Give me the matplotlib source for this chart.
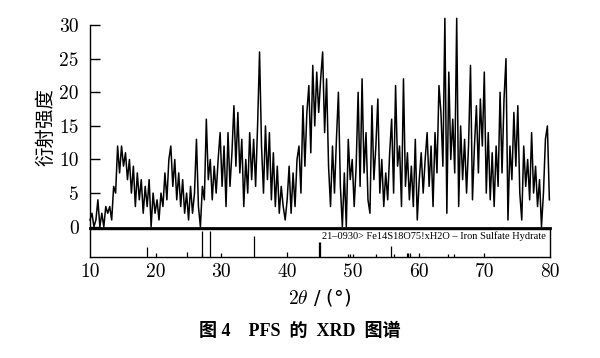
import matplotlib

matplotlib.use("Agg")

import matplotlib.pyplot as plt
import numpy as np

# XRD scan, 2theta from 10.0 to 79.9 in 0.3 deg steps
two_theta_start = 10.0
two_theta_step = 0.3
intensity = [
    # 10.0 - 19.9
    1, 2, 0, 1, 4, 0, 2, 0, 3, 2, 3, 1, 6, 5, 12, 8, 12, 9, 11, 7,
    10, 5, 9, 3, 8, 4, 7, 2, 6, 3, 7, 0, 5, 2,
    # 20.2 - 29.8
    4, 1, 5, 3, 8, 4, 10, 12, 6, 10, 4, 8, 3, 7, 2, 5, 1, 6, 2, 5,
    13, 3, 0, 6, 4, 16, 7, 10, 4, 9, 5, 10, 14,
    # 30.1 - 39.7
    6, 12, 3, 14, 6, 11, 18, 9, 17, 8, 13, 3, 10, 5, 14, 7, 13, 6, 15, 26,
    12, 5, 15, 7, 14, 4, 11, 3, 9, 2, 6, 3, 1,
    # 40.0 - 49.6
    4, 9, 2, 8, 3, 10, 12, 5, 18, 9, 17, 21, 11, 24, 15, 23, 17, 22, 26, 14,
    22, 9, 3, 12, 5, 13, 20, 6, 0, 8, 0, 13, 7,
    # 49.9 - 59.5
    10, 3, 9, 20, 6, 22, 8, 14, 4, 2, 18, 7, 12, 19, 5, 10, 3, 8, 4, 11,
    16, 5, 21, 9, 12, 3, 22, 6, 11, 4, 9, 3, 13,
    # 59.8 - 69.7
    1, 7, 11, 5, 10, 14, 6, 12, 3, 14, 8, 21, 17, 9, 31, 2, 23, 10, 16, 8,
    31, 3, 15, 7, 13, 5, 12, 24, 4, 12, 18, 8, 19, 12,
    # 70.0 - 79.9
    23, 5, 14, 4, 11, 3, 12, 6, 20, 8, 19, 25, 1, 12, 7, 17, 9, 18, 5, 1,
    12, 6, 10, 4, 14, 5, 9, 3, 7, 0, 5, 13, 15, 4,
]

# reference card 21-0930 stick pattern (relative intensity, %)
ref_positions = [18.6, 20.0, 24.7, 27.0, 27.1, 28.2, 30.0, 35.0, 40.0, 44.8, 45.0,
                 49.2, 49.6, 50.0, 53.5, 55.8, 56.2, 58.2, 58.4, 58.7, 60.0,
                 64.5, 65.4, 70.0]
ref_heights = [37, 15, 19, 100, 12, 100, 15, 78, 19, 56, 56,
               10, 10, 10, 12, 40, 12, 15, 15, 15, 16,
               12, 12, 15]
ref_label = "21\u20130930> Fe14S18O75!xH2O \u2013 Iron Sulfate Hydrate"

y_ticks = [0, 5, 10, 15, 20, 25, 30]
x_ticks = [10, 20, 30, 40, 50, 60, 70, 80]

plt.rcParams["mathtext.fontset"] = "cm"
tick_font = {"family": "cmr10", "size": 14}

fig = plt.figure(figsize=(6.0, 3.58), dpi=100)
ax = fig.add_axes([0.15, 0.363, 0.7667, 0.567])
ax_ref = fig.add_axes([0.15, 0.282, 0.7667, 0.077])

two_theta = two_theta_start + two_theta_step * np.arange(len(intensity))
ax.plot(two_theta, intensity, color="black", linewidth=1.1, clip_on=False)
ax.set_xlim(10, 80)
ax.set_ylim(-0.2, 30)
ax.set_yticks(y_ticks)
ax.set_yticklabels([str(v) for v in y_ticks], fontdict=tick_font)
ax.tick_params(axis="y", direction="in", length=7, width=1.0, pad=8)
ax.set_xticks([])
for side in ("top", "right"):
    ax.spines[side].set_visible(False)
ax.spines["left"].set_bounds(-0.2, 30)
ax.spines["left"].set_linewidth(1.0)
ax.spines["bottom"].set_linewidth(2.0)
ax.set_ylabel("衍射强度", fontfamily="Noto Sans CJK SC", fontsize=14, labelpad=2)

ax_ref.vlines(ref_positions, 0, ref_heights, color="black", linewidth=0.9)
ax_ref.set_xlim(10, 80)
ax_ref.set_ylim(0, 104)
ax_ref.set_yticks([])
ax_ref.set_xticks(x_ticks)
ax_ref.set_xticklabels([str(v) for v in x_ticks], fontdict=tick_font)
ax_ref.tick_params(axis="x", length=0, pad=4)
for spine in ax_ref.spines.values():
    spine.set_linewidth(1.0)
ax_ref.text(0.99, 0.93, ref_label, transform=ax_ref.transAxes, ha="right", va="top",
            family=["Liberation Serif", "DejaVu Serif"], fontsize=7.5)
ax_ref.set_xlabel(r"$2\theta$ / (°)", fontsize=14, labelpad=5)

fig.text(0.5, 0.074, "图 4    PFS  的  XRD  图谱", ha="center", va="center", fontsize=13,
         fontweight="bold", family=["Liberation Serif", "Noto Sans CJK SC"])

fig.savefig("out.png", dpi=100)
